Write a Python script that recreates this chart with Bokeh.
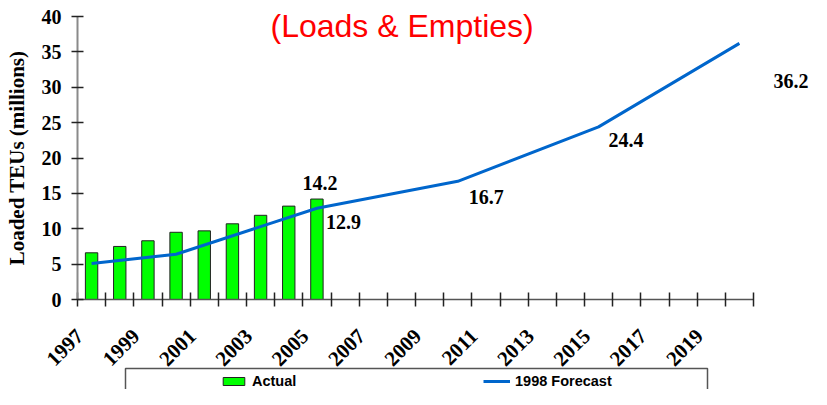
from math import pi
from bokeh.plotting import figure
from bokeh.models import (FixedTicker, Label, Legend, LegendItem, BoxAnnotation,
                          Range1d, ColumnDataSource, CustomJSTickFormatter)
from bokeh.embed import file_html
from bokeh.resources import INLINE

# ---- data ----
actual_years = [1997, 1998, 1999, 2000, 2001, 2002, 2003, 2004, 2005]
actual_values = [6.6, 7.5, 8.3, 9.5, 9.7, 10.7, 11.9, 13.2, 14.2]
forecast_years = [1997, 2000, 2005, 2010, 2015, 2020]
forecast_values = [5.1, 6.4, 12.9, 16.7, 24.4, 36.2]
category_years = [1997, 1998, 1999, 2000, 2001, 2002, 2003, 2004, 2005, 2006,
                  2007, 2008, 2009, 2010, 2011, 2012, 2013, 2014, 2015, 2016,
                  2017, 2018, 2019, 2020]
tick_label_years = [1997, 1999, 2001, 2003, 2005, 2007, 2009, 2011, 2013,
                    2015, 2017, 2019]
y_ticks = [0, 5, 10, 15, 20, 25, 30, 35, 40]
labeled_forecast_years = [2005, 2010, 2015, 2020]
labeled_actual_years = [2005]
title_text = "(Loads & Empties)"
y_title = "Loaded TEUs (millions)"
legend_labels = ["Actual", "1998 Forecast"]

# ---- layout / styles (pixels) ----
W, H = 811, 389
AX_LEFT, AX_RIGHT, AX_TOP, AX_BOTTOM = 77, 753, 16, 299
SERIF = "Liberation Serif"
SANS = "Liberation Sans"
forecast_label_offsets = [(9, -14), (11, -16), (10, -13), (34, -38)]
LABEL_SHIFT = 0.42  # category fraction the slanted year labels sit left of centre

x0, x1 = category_years[0] - 0.5, category_years[-1] + 0.5
y0, y1 = y_ticks[0], y_ticks[-1]
xs = (AX_RIGHT - AX_LEFT) / (x1 - x0)
ys = (AX_BOTTOM - AX_TOP) / (y1 - y0)


def px_x(px):
    return x0 + (px - AX_LEFT) / xs


def px_y(py):
    return y0 + (AX_BOTTOM - py) / ys


p = figure(width=W, height=H, output_backend="svg", toolbar_location=None,
           x_range=Range1d(px_x(0), px_x(W)), y_range=Range1d(px_y(H), px_y(0)),
           min_border=0, min_border_left=0, min_border_right=0,
           min_border_top=0, min_border_bottom=0)
p.outline_line_color = None
p.xgrid.visible = False
p.ygrid.visible = False
p.background_fill_color = "white"
p.border_fill_color = "white"

src_a = ColumnDataSource(dict(x=actual_years, top=actual_values))
bars = p.vbar(x="x", top="top", width=0.44, source=src_a,
              fill_color="#00FF00", line_color="#222222", line_width=1)
src_f = ColumnDataSource(dict(x=forecast_years, y=forecast_values))
line = p.line(x="x", y="y", source=src_f, line_color="#0066CC", line_width=3)

# x axis (drawn at y = 0 inside the frame)
xa = p.xaxis[0]
xa.fixed_location = y0
xa.bounds = (x0, x1)
xa.ticker = FixedTicker(ticks=[y - LABEL_SHIFT for y in tick_label_years],
                        minor_ticks=[y - 0.5 for y in category_years] + [x1])
xa.formatter = CustomJSTickFormatter(
    args=dict(shift=LABEL_SHIFT), code="return String(Math.round(tick + shift))")
xa.major_tick_in = 0
xa.major_tick_out = 0
xa.minor_tick_in = 7
xa.minor_tick_out = 7
xa.minor_tick_line_color = "#222222"
xa.minor_tick_line_width = 1.5
xa.axis_line_color = "#555555"
xa.axis_line_width = 1.5
xa.major_label_orientation = pi / 4
xa.major_label_standoff = 26
xa.major_label_text_font = SERIF
xa.major_label_text_font_style = "bold"
xa.major_label_text_font_size = "21px"
xa.major_label_text_color = "black"

# y axis (drawn at the left category boundary)
ya = p.yaxis[0]
ya.fixed_location = x0
ya.bounds = (y0, y1)
ya.ticker = FixedTicker(ticks=y_ticks)
ya.major_tick_in = 6
ya.major_tick_out = 6
ya.major_tick_line_color = "#222222"
ya.major_tick_line_width = 1.5
ya.minor_tick_line_color = None
ya.axis_line_color = "#8a8a8a"
ya.axis_line_width = 2
ya.major_label_standoff = 10
ya.major_label_text_font = SERIF
ya.major_label_text_font_style = "bold"
ya.major_label_text_font_size = "20px"
ya.major_label_text_color = "black"
ya.axis_label = y_title
ya.axis_label_text_font = SERIF
ya.axis_label_text_font_style = "bold"
ya.axis_label_text_font_size = "21px"
ya.axis_label_text_color = "black"
ya.axis_label_standoff = 10

# data labels
for yr in labeled_actual_years:
    v = actual_values[actual_years.index(yr)]
    p.add_layout(Label(x=yr, y=v, text=f"{v:.1f}", x_offset=3, y_offset=16,
                       text_align="center", text_baseline="alphabetic",
                       text_font=SERIF, text_font_style="bold",
                       text_font_size="20px", text_color="black"))
for yr, (dx, dy) in zip(labeled_forecast_years, forecast_label_offsets):
    v = forecast_values[forecast_years.index(yr)]
    p.add_layout(Label(x=yr, y=v, text=f"{v:.1f}", x_offset=dx, y_offset=dy,
                       text_align="left", text_baseline="alphabetic",
                       text_font=SERIF, text_font_style="bold",
                       text_font_size="20px", text_color="black"))

# title
p.add_layout(Label(x=px_x(270), y=px_y(25), text=title_text,
                   text_align="left", text_baseline="alphabetic",
                   text_font=SANS, text_font_size="32px", text_color="#FF0000"))

# legend box and legend
p.add_layout(BoxAnnotation(left=px_x(125), right=px_x(707), top=px_y(368),
                           bottom=px_y(H + 20),
                           fill_alpha=0, line_color="#555555", line_alpha=1,
                           line_width=1.5, level="overlay"))
legend = Legend(items=[LegendItem(label=legend_labels[0], renderers=[bars]),
                       LegendItem(label=legend_labels[1], renderers=[line])],
                orientation="horizontal", location=(220, 0),
                padding=0, margin=0, spacing=0, label_width=231,
                label_height=16, glyph_width=27, glyph_height=10,
                label_standoff=5, border_line_alpha=0,
                background_fill_alpha=0,
                label_text_font=SANS, label_text_font_style="bold",
                label_text_font_size="14.5px", label_text_color="black")
p.add_layout(legend, "center")

open("out.html", "w").write(file_html(p, INLINE))
